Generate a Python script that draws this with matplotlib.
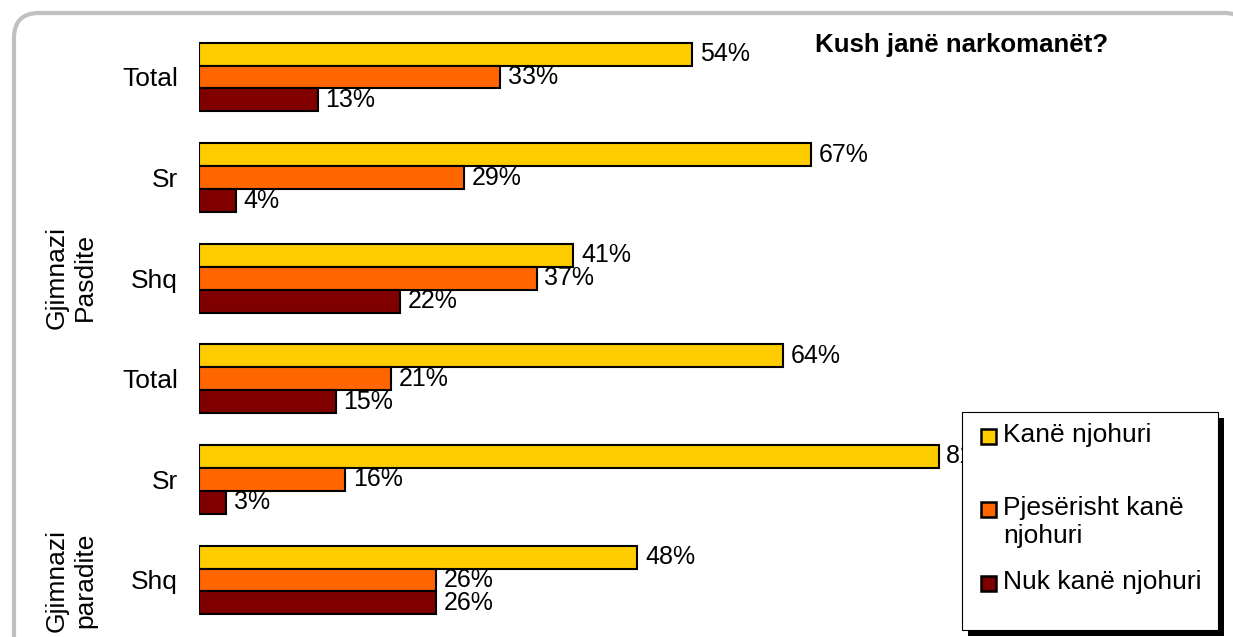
import numpy as np
import matplotlib
matplotlib.use("Agg")
import matplotlib.pyplot as plt
from matplotlib.patches import Rectangle, FancyBboxPatch

plt.rcParams['font.family'] = ['Liberation Sans', 'DejaVu Sans']

categories = ["Total", "Sr", "Shq", "Total", "Sr", "Shq"]
series_names = ["Kanë njohuri", "Pjesërisht kanë\nnjohuri", "Nuk kanë njohuri"]
kane = [54, 67, 41, 64, 81, 48]
pjeserisht = [33, 29, 37, 21, 16, 26]
nuk = [13, 4, 22, 15, 3, 26]
colors = ["#FFCC00", "#FF6600", "#800000"]

W, H = 1233, 637
fig = plt.figure(figsize=(W / 100, H / 100), dpi=100)


def fx(x):
    return x / W


def fy(y):
    return 1 - y / H


# outer rounded frame
frame = FancyBboxPatch((0.34, -0.3), 12.05 - 0.1, 6.24 + 0.3 - 0.2,
                       boxstyle="round,pad=0.2,rounding_size=0.25",
                       transform=fig.dpi_scale_trans, facecolor="white",
                       edgecolor="#c0c0c0", linewidth=3, zorder=-5)
fig.patches.append(frame)

ax = fig.add_axes([fx(199), fy(630.3), fx(913), 603.6 / H])
ax.set_facecolor("none")

y = np.arange(len(categories))
h = 0.228
values = [kane, pjeserisht, nuk]
for i, vals in enumerate(values):
    bars = ax.barh(y + (i - 1) * h, vals, height=h, color=colors[i],
                   edgecolor="black", linewidth=1.5)
    ax.bar_label(bars, labels=[f"{v}%" for v in vals], padding=5.5,
                 fontsize=18)

ax.set_xlim(0, 100)
ax.set_ylim(5.5, -0.5)
ax.set_yticks(y)
ax.set_yticklabels(categories, fontsize=19)
ax.tick_params(axis="y", length=0, pad=15)
ax.set_xticks([])
for s in ax.spines.values():
    s.set_visible(False)

# group labels
fig.text(fx(71), fy(277), "Gjimnazi\nPasdite", rotation=90, fontsize=19,
         ha="center", va="center", linespacing=1.25)
fig.text(fx(71), fy(580), "Gjimnazi\nparadite", rotation=90, fontsize=19,
         ha="center", va="center", linespacing=1.25)

fig.text(fx(815), fy(45), "Kush janë narkomanët?", fontsize=18.6,
         fontweight="bold", ha="left", va="center")

# legend
lx0, ly0, lx1, ly1 = 962, 412, 1218, 630
fig.patches.append(Rectangle((fx(lx0 + 6), fy(ly1 + 6)), fx(lx1 - lx0),
                             (ly1 - ly0) / H, transform=fig.transFigure,
                             facecolor="black", edgecolor="none", zorder=8))
fig.patches.append(Rectangle((fx(lx0), fy(ly1)), fx(lx1 - lx0),
                             (ly1 - ly0) / H, transform=fig.transFigure,
                             facecolor="white", edgecolor="black",
                             linewidth=0.8, zorder=9))
entry_y = [436, 509, 583]
for name, c, ey in zip(series_names, colors, entry_y):
    fig.patches.append(Rectangle((fx(981), fy(ey + 8)), fx(15), 15 / H,
                                 transform=fig.transFigure, facecolor=c,
                                 edgecolor="black", linewidth=1.8, zorder=10))
    fig.text(fx(1003), fy(ey - 13), name, fontsize=19, ha="left", va="top",
             linespacing=1.2, zorder=11)

fig.savefig("out.png", dpi=100)
